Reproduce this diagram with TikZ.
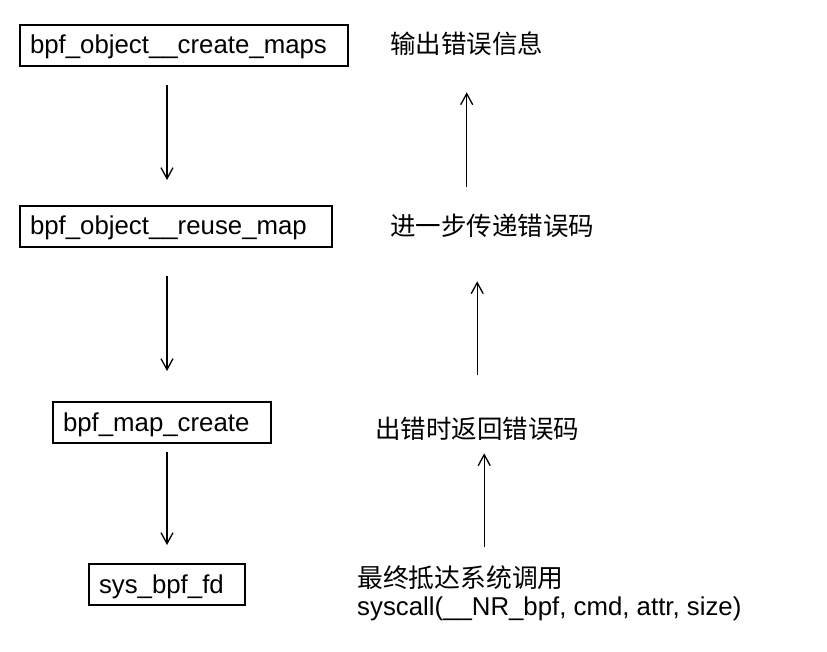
\documentclass[tikz,border=0pt]{standalone}
\usepackage{fontspec}
\setmainfont{Liberation Sans}
\newfontfamily\cjk{Noto Sans CJK SC}
\usetikzlibrary{arrows.meta,calc}

\begin{document}
\begin{tikzpicture}[
  x=1pt, y=-1pt,
  font=\fontsize{25.8}{28}\selectfont,
  box/.style={draw, line width=2pt, anchor=north west, align=left, inner xsep=10pt, inner ysep=0pt, minimum height=41pt, text height=20.5pt, text depth=3.5pt},
  note/.style={inner sep=0pt, anchor=base west, font=\fontsize{25.5}{27}\selectfont\cjk},
  arrow/.style={-{Straight Barb[length=11pt,width=12pt]}, line width=1.3pt}
]
\useasboundingbox (0,0) rectangle (827,652);

% call chain
\node[box, text width=308pt] (createmaps) at (19,24) {bpf\_object\_\_create\_maps};
\node[box, text width=292pt] (reusemap) at (19,205) {bpf\_object\_\_reuse\_map};
\node[box, text width=198pt] (mapcreate) at (52,401) {bpf\_map\_create};
\node[box, text width=136pt] (sysbpf) at (88,563) {sys\_bpf\_fd};

\draw[arrow, shorten <=18pt, shorten >=25pt] (createmaps.south -| sysbpf) -- (reusemap.north -| sysbpf);
\draw[arrow, shorten <=28pt, shorten >=30pt] (reusemap.south -| sysbpf) -- (mapcreate.north -| sysbpf);
\draw[arrow, shorten <=8pt, shorten >=18pt] (mapcreate.south -| sysbpf) -- (sysbpf.north);

% error path
\node[note] (report) at (390,54) {输出错误信息};
\node[note] (relay) at (390,236) {进一步传递错误码};
\node[note] (fail) at (375,438) {出错时返回错误码};
\node[inner sep=0pt, anchor=north west, align=left] (syscall) at (357,566) {{\cjk 最终抵达系统调用}\\syscall(\_\_NR\_bpf, cmd, attr, size)};

\draw[arrow, shorten <=27pt, shorten >=36pt] (relay.north -| report) -- (report.south);
\draw[arrow, shorten <=41pt, shorten >=43pt] (fail.north) -- (relay.south -| fail);
\draw[arrow, shorten <=19pt, shorten >=13pt] ($(syscall.north -| fail)+(7,0)$) -- ($(fail.south)+(7,0)$);
\end{tikzpicture}
\end{document}
